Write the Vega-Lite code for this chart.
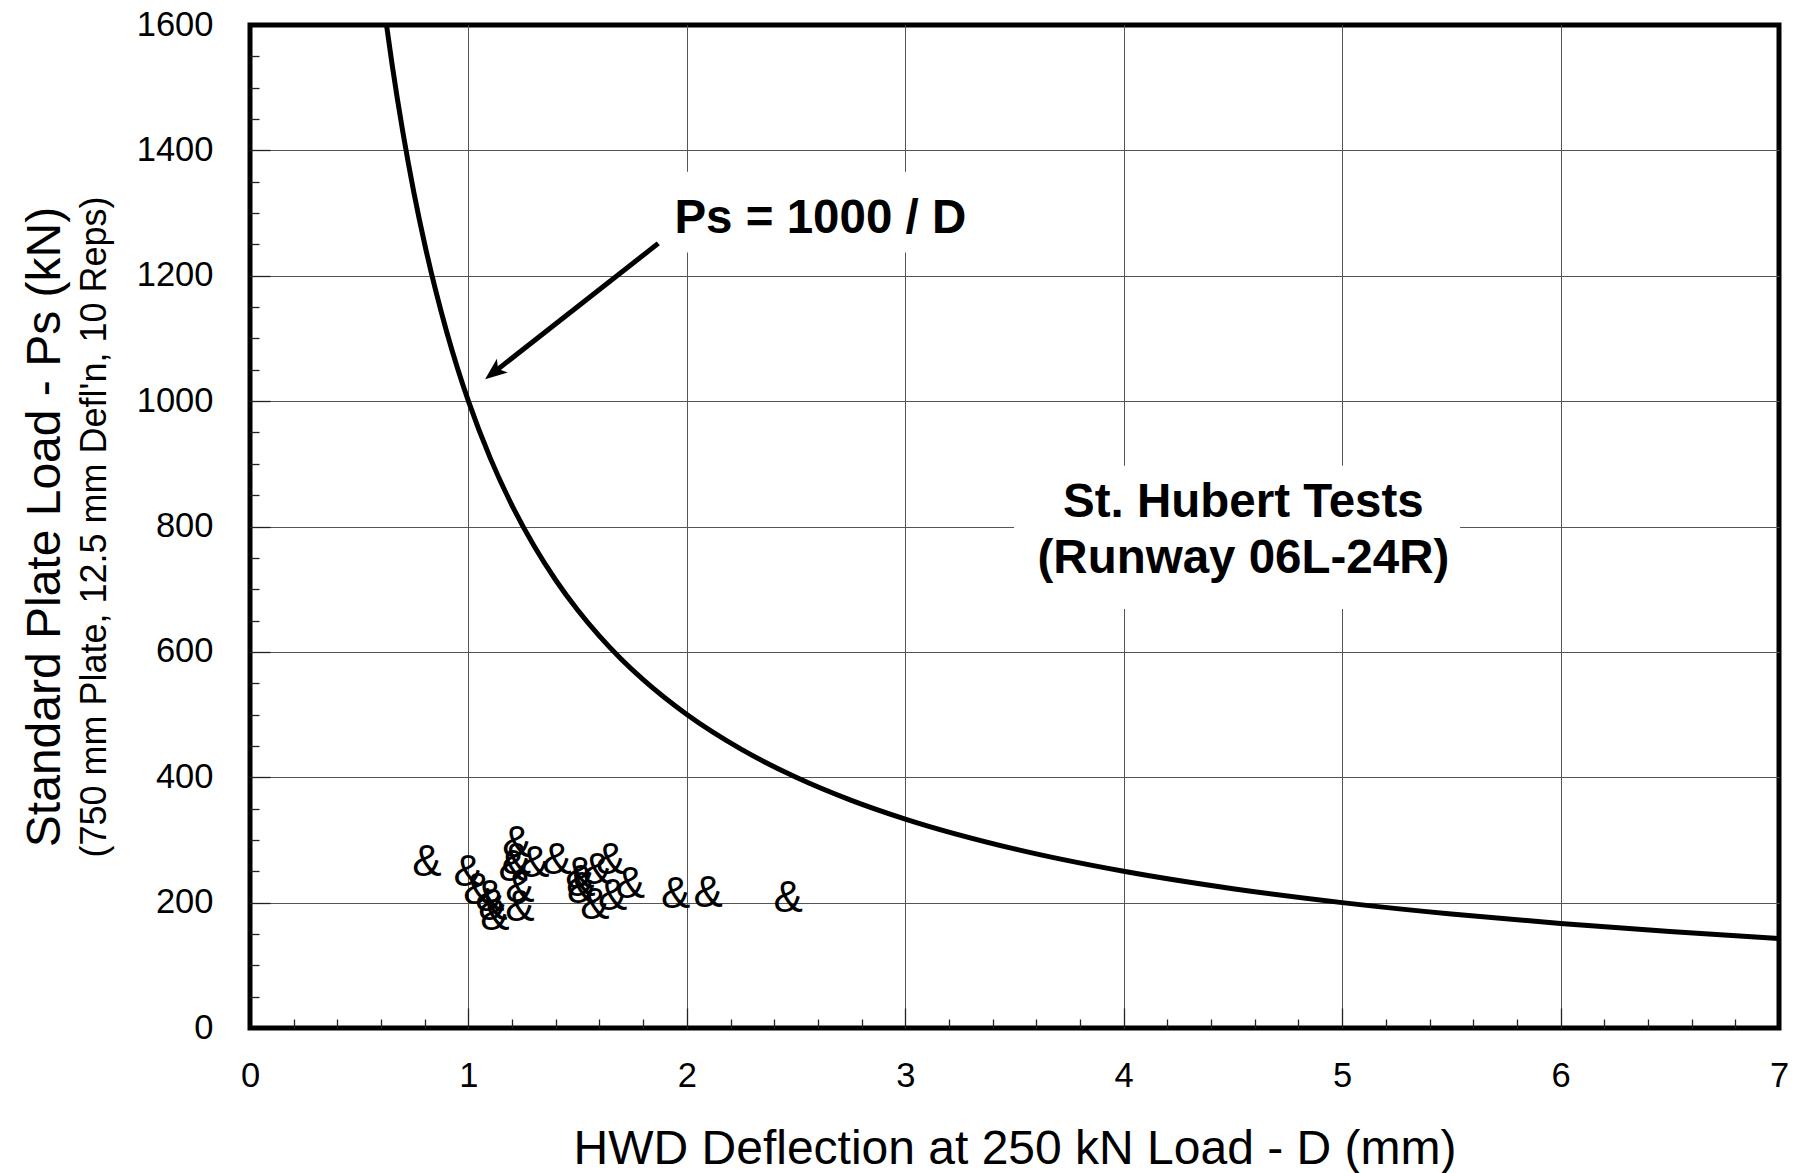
{
  "$schema": "https://vega.github.io/schema/vega-lite/v6.json",
  "width": 1529,
  "height": 1003,
  "autosize": {"type": "none"},
  "padding": {"left": 250, "top": 25, "right": 26, "bottom": 145},
  "background": "white",
  "config": {
    "view": {"stroke": "black", "strokeWidth": 5},
    "font": "Liberation Sans",
    "axis": {
      "domain": false,
      "labelFont": "Liberation Sans",
      "titleFont": "Liberation Sans",
      "labelColor": "black",
      "titleColor": "black",
      "titleFontWeight": "normal",
      "labelFlush": false,
      "labelOverlap": false,
      "gridColor": "#555555",
      "gridWidth": 1,
      "gridOpacity": 1,
      "tickColor": "#222222",
      "tickWidth": 1.3,
      "tickOpacity": 1
    }
  },
  "resolve": {"axis": {"x": "independent", "y": "independent"}},
  "layer": [
    {
      "data": {"values": [
        {"x1": 1.9, "x2": 3.333, "y1": 1237.2, "y2": 1365.8},
        {"x1": 3.498, "x2": 5.54, "y1": 668.5, "y2": 897}
      ]},
      "mark": {"type": "rect", "fill": "white", "stroke": null},
      "encoding": {
        "x": {"field": "x1", "type": "quantitative",
          "scale": {"domain": [0, 7], "nice": false, "zero": false},
          "axis": {"orient": "bottom", "values": [0, 1, 2, 3, 4, 5, 6, 7], "format": "d", "grid": false, "ticks": false,
            "labelFontSize": 34.5, "labelPadding": 31, "labelAngle": 0,
            "title": "HWD Deflection at 250 kN Load - D (mm)", "titleFontSize": 48,
            "titleBaseline": "alphabetic", "titleY": 135}},
        "x2": {"field": "x2"},
        "y": {"field": "y1", "type": "quantitative",
          "scale": {"domain": [0, 1600], "nice": false, "zero": false},
          "axis": {"orient": "left", "values": [0, 200, 400, 600, 800, 1000, 1200, 1400, 1600], "format": "d", "grid": false, "ticks": false,
            "labelFontSize": 34.5, "labelPadding": 37,
            "title": "Standard Plate Load - Ps (kN)", "titleFontSize": 48,
            "titleBaseline": "alphabetic", "titleX": -190.7}},
        "y2": {"field": "y2"}
      }
    },
    {
      "data": {"values": [
        {"D": 0.625, "P": 1600}, {"D": 0.65, "P": 1538.5}, {"D": 0.7, "P": 1428.6}, {"D": 0.75, "P": 1333.3},
        {"D": 0.8, "P": 1250}, {"D": 0.85, "P": 1176.5}, {"D": 0.9, "P": 1111.1}, {"D": 0.95, "P": 1052.6},
        {"D": 1.0, "P": 1000}, {"D": 1.1, "P": 909.1}, {"D": 1.2, "P": 833.3}, {"D": 1.3, "P": 769.2},
        {"D": 1.4, "P": 714.3}, {"D": 1.5, "P": 666.7}, {"D": 1.6, "P": 625}, {"D": 1.7, "P": 588.2},
        {"D": 1.8, "P": 555.6}, {"D": 2.0, "P": 500}, {"D": 2.25, "P": 444.4}, {"D": 2.5, "P": 400},
        {"D": 2.75, "P": 363.6}, {"D": 3.0, "P": 333.3}, {"D": 3.5, "P": 285.7}, {"D": 4.0, "P": 250},
        {"D": 4.5, "P": 222.2}, {"D": 5.0, "P": 200}, {"D": 5.5, "P": 181.8}, {"D": 6.0, "P": 166.7},
        {"D": 6.5, "P": 153.8}, {"D": 7.0, "P": 142.9}
      ]},
      "mark": {"type": "line", "stroke": "black", "strokeWidth": 5, "interpolate": "monotone"},
      "encoding": {
        "x": {"field": "D", "type": "quantitative",
          "scale": {"domain": [0, 7], "nice": false, "zero": false},
          "axis": {"orient": "bottom", "values": [1, 2, 3, 4, 5, 6], "labels": false, "grid": true,
            "ticks": true, "tickSize": -20, "title": null}},
        "y": {"field": "P", "type": "quantitative",
          "scale": {"domain": [0, 1600], "nice": false, "zero": false},
          "axis": {"orient": "left", "values": [200, 400, 600, 800, 1000, 1200, 1400], "labels": false, "grid": true,
            "ticks": true, "tickSize": -20, "title": null}}
      }
    },
    {
      "data": {"values": [
        {"D": 0.81, "P": 263.6}, {"D": 0.999, "P": 246.5}, {"D": 1.044, "P": 218.9}, {"D": 1.098, "P": 207.7},
        {"D": 1.112, "P": 193.4}, {"D": 1.121, "P": 177.5}, {"D": 1.222, "P": 293.1}, {"D": 1.22, "P": 266.7},
        {"D": 1.205, "P": 255.6}, {"D": 1.236, "P": 221}, {"D": 1.236, "P": 191.8}, {"D": 1.304, "P": 261.2},
        {"D": 1.405, "P": 266.7}, {"D": 1.51, "P": 244.4}, {"D": 1.515, "P": 231.7}, {"D": 1.519, "P": 220.5},
        {"D": 1.59, "P": 250.3}, {"D": 1.651, "P": 266.3}, {"D": 1.579, "P": 194.5}, {"D": 1.66, "P": 209.3},
        {"D": 1.742, "P": 227.4}, {"D": 1.949, "P": 211.4}, {"D": 2.098, "P": 213}, {"D": 2.464, "P": 205}
      ]},
      "mark": {"type": "text", "text": "&", "font": "Liberation Sans Narrow, Liberation Sans", "fontSize": 44,
        "align": "center", "baseline": "middle", "color": "black"},
      "encoding": {
        "x": {"field": "D", "type": "quantitative",
          "scale": {"domain": [0, 7], "nice": false, "zero": false},
          "axis": {"orient": "bottom", "values": [0.2, 0.4, 0.6, 0.8, 1.2, 1.4, 1.6, 1.8, 2.2, 2.4, 2.6, 2.8, 3.2, 3.4, 3.6, 3.8, 4.2, 4.4, 4.6, 4.8, 5.2, 5.4, 5.6, 5.8, 6.2, 6.4, 6.6, 6.8],
            "labels": false, "grid": false, "ticks": true, "tickSize": -9, "title": null}},
        "y": {"field": "P", "type": "quantitative",
          "scale": {"domain": [0, 1600], "nice": false, "zero": false},
          "axis": {"orient": "left", "values": [50, 100, 150, 250, 300, 350, 450, 500, 550, 650, 700, 750, 850, 900, 950, 1050, 1100, 1150, 1250, 1300, 1350, 1450, 1500, 1550],
            "labels": false, "grid": false, "ticks": true, "tickSize": -9,
            "title": "(750 mm Plate, 12.5 mm Defl'n, 10 Reps)", "titleFontSize": 36,
            "titleBaseline": "alphabetic", "titleX": -144.2}}
      }
    },
    {
      "data": {"values": [{"x1": 1.869, "y1": 1251.6, "x2": 1.112, "y2": 1044.7}]},
      "mark": {"type": "rule", "stroke": "black", "strokeWidth": 5},
      "encoding": {
        "x": {"field": "x1", "type": "quantitative", "scale": {"domain": [0, 7], "nice": false, "zero": false}, "axis": null},
        "x2": {"field": "x2"},
        "y": {"field": "y1", "type": "quantitative", "scale": {"domain": [0, 1600], "nice": false, "zero": false}, "axis": null},
        "y2": {"field": "y2"}
      }
    },
    {
      "data": {"values": [{"D": 1.0762, "P": 1034.8}]},
      "mark": {"type": "point", "shape": "M0,0 L0.8,2 L0,1.5 L-0.8,2 Z", "size": 484, "angle": 231.7,
        "filled": true, "fill": "black", "opacity": 1, "strokeWidth": 0},
      "encoding": {
        "x": {"field": "D", "type": "quantitative", "scale": {"domain": [0, 7], "nice": false, "zero": false}, "axis": null},
        "y": {"field": "P", "type": "quantitative", "scale": {"domain": [0, 1600], "nice": false, "zero": false}, "axis": null}
      }
    },
    {
      "data": {"values": [
        {"D": 2.611, "P": 1267.5, "label": "Ps = 1000 / D"},
        {"D": 4.548, "P": 815.4, "label": "St. Hubert Tests"},
        {"D": 4.548, "P": 726.1, "label": "(Runway 06L-24R)"}
      ]},
      "mark": {"type": "text", "font": "Liberation Sans", "fontSize": 47.5, "fontWeight": "bold",
        "align": "center", "baseline": "alphabetic", "color": "black"},
      "encoding": {
        "x": {"field": "D", "type": "quantitative", "scale": {"domain": [0, 7], "nice": false, "zero": false}, "axis": null},
        "y": {"field": "P", "type": "quantitative", "scale": {"domain": [0, 1600], "nice": false, "zero": false}, "axis": null},
        "text": {"field": "label", "type": "nominal"}
      }
    }
  ]
}
